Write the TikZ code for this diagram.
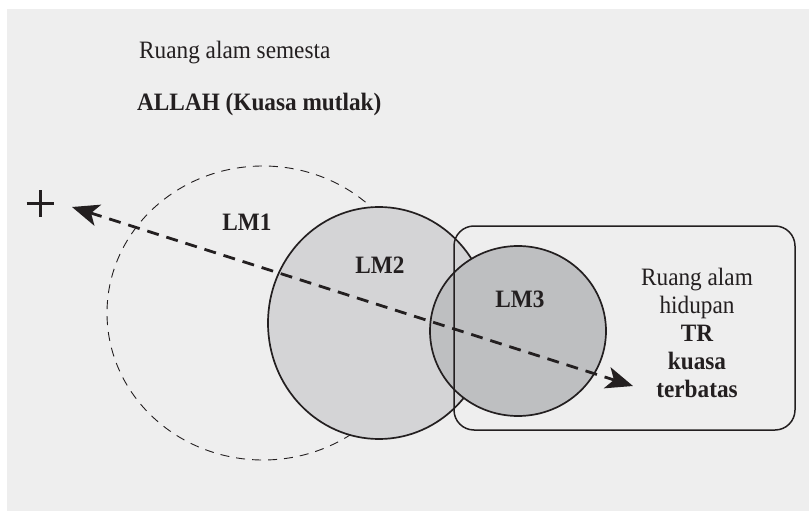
\documentclass[tikz,border=0pt]{standalone}
\usepackage{fontspec}
\setmainfont{Liberation Serif}[FakeStretch=0.93]
\usetikzlibrary{arrows.meta}
\definecolor{bggray}{HTML}{EEEEEE}
\definecolor{lmtwo}{HTML}{D4D4D6}
\definecolor{lmthree}{HTML}{BEBFC1}
\definecolor{ink}{HTML}{231F20}
\tikzset{
  txt/.style={font=\fontsize{25}{28}\selectfont, text=ink, inner sep=0pt},
  lbl/.style={txt, font=\fontsize{25}{28}\selectfont\bfseries},
  ellborder/.style={draw=ink, line width=1.7pt},
}
\begin{document}
\begin{tikzpicture}[x=1pt,y=-1pt]
\useasboundingbox (0,0) rectangle (809,511);
\fill[bggray] (7,9) rectangle (809,511);
% LM1 dashed circle
\draw[ink, line width=0.9pt, dash pattern=on 9pt off 7pt] (263,313) ellipse [x radius=156, y radius=147];
% LM2
\draw[ellborder, fill=lmtwo] (379,323) ellipse [x radius=111, y radius=116];
% LM3
\draw[ellborder, fill=lmthree] (518,331) ellipse [x radius=88, y radius=85];
% rectangle
\draw[ink, line width=1.5pt, rounded corners=20pt] (454,226) rectangle (795,430);
% texts
\node[txt, anchor=west] (semesta) at (139,53) {Ruang alam semesta};
\node[lbl, anchor=west] (allah) at (137,104) {ALLAH (Kuasa mutlak)};
\node[lbl] (lm1) at (247,222) {LM1};
\node[lbl] (lm2) at (380,265) {LM2};
\node[lbl] (lm3) at (520,299) {LM3};
\node[txt, align=center] (hidup) at (697,333) {Ruang alam\\hidupan\\\textbf{TR}\\\textbf{kuasa}\\\textbf{terbatas}};
% plus
\coordinate (plus) at (40,203);
\draw[ink, line width=3pt] ([xshift=-13.5pt]plus) -- ([xshift=13.5pt]plus);
\draw[ink, line width=3pt] ([yshift=-13.5pt]plus) -- ([yshift=13.5pt]plus);
% arrow
\coordinate (pl) at (72,207);
\coordinate (pr) at (633,386);
\draw[ink, line width=2.8pt, dash pattern=on 12pt off 8pt,
  {Stealth[length=27pt,width=22pt,inset=7pt]}-{Stealth[length=27pt,width=22pt,inset=7pt]}] (pl) -- (pr);
\end{tikzpicture}
\end{document}
